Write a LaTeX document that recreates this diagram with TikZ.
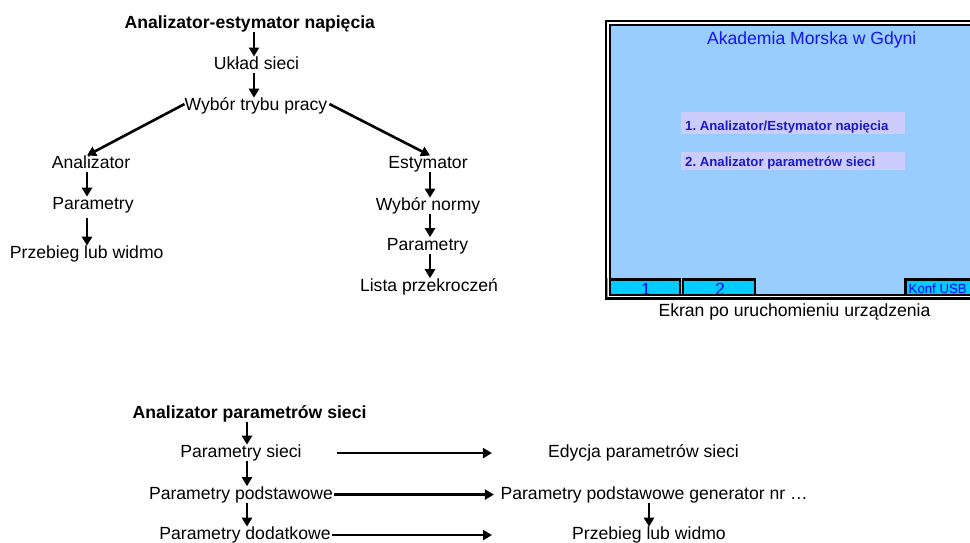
\documentclass[tikz,border=0pt]{standalone}
\usepackage{fontspec}
\setmainfont{Liberation Sans}
\frenchspacing
\usetikzlibrary{arrows.meta}
\definecolor{scrbg}{HTML}{99CCFF}
\definecolor{btncyan}{HTML}{00CCFF}
\definecolor{menubg}{HTML}{CCCCFF}
\definecolor{scrblue}{HTML}{1414F0}
\definecolor{menublue}{HTML}{1A1AC8}
\tikzset{
  lbl/.style={font=\fontsize{17.6}{20}\selectfont, inner sep=0pt, text height=12.6pt, text depth=3.7pt, anchor=base},
  blbl/.style={lbl, font=\fontsize{17.6}{20}\selectfont\bfseries},
  arr/.style={line width=2.6pt, -{Triangle[length=9pt,width=10pt]}},
  scrtitle/.style={font=\fontsize{17.6}{20}\selectfont, text=scrblue, inner sep=0pt, anchor=base},
  menutxt/.style={font=\fontsize{13.2}{15}\selectfont\bfseries, text=menublue, inner sep=0pt, anchor=base west},
  btntxt/.style={font=\fontsize{17.6}{20}\selectfont, text=blue, inner sep=0pt, anchor=base},
  konftxt/.style={font=\fontsize{13.2}{15}\selectfont, text=blue, inner sep=0pt, anchor=base west},
  frame/.style={line width=2.2pt},
}
\begin{document}
\begin{tikzpicture}[x=1pt,y=-1pt]
\useasboundingbox (0,0) rectangle (970,542);

% ---------- top-left tree ----------
\coordinate (cA) at (254,0);
\coordinate (cL) at (87,0);
\coordinate (cR) at (430,0);
\node[blbl] (t0) at (249.8,28) {Analizator-estymator napięcia};
\node[lbl] (t1) at (256.5,69.3) {Układ sieci};
\node[lbl] (t2) at (256,110.5) {Wybór trybu pracy};
\node[lbl] (an) at (91,168.3) {Analizator};
\node[lbl] (pa) at (93,209.5) {Parametry};
\node[lbl] (pl) at (86.7,258.5) {Przebieg lub widmo};
\node[lbl] (es) at (428,168.3) {Estymator};
\node[lbl] (wn) at (428,210.5) {Wybór normy};
\node[lbl] (pe) at (427.5,250) {Parametry};
\node[lbl] (li) at (429,291) {Lista przekroczeń};

\draw[arr] (t0.south -| cA) -- (t1.north -| cA);
\draw[arr] (t1.south -| cA) -- (t2.north -| cA);
\draw[arr] ([yshift=2pt]t2.west) -- (an.north -| cL);
\draw[arr] ([xshift=2pt,yshift=2pt]t2.east) -- (es.north -| cR);
\draw[arr] (an.south -| cL) -- (pa.north -| cL);
\draw[arr, shorten <=5pt] (pa.south -| cL) -- (pl.north -| cL);
\draw[arr] (es.south -| cR) -- (wn.north -| cR);
\draw[arr] (wn.south -| cR) -- (pe.north -| cR);
\draw[arr] (pe.south -| cR) -- (li.north -| cR);

% ---------- screen ----------
\fill[scrbg] (610.7,25.7) rectangle (990,294.2);
\fill[btncyan] (610.7,280.5) rectangle (679,294.2);
\fill[btncyan] (684.3,280.5) rectangle (754,294.2);
\fill[btncyan] (906.5,280.5) rectangle (990,294.2);
\draw[btncyan, line width=1pt] (607.8,278) -- (607.8,297) -- (990,297);
\fill[menubg] (681,112.3) rectangle (905,133.7);
\fill[menubg] (681,152) rectangle (905,169.7);

\node[scrtitle] (st) at (811.7,44) {Akademia Morska w Gdyni};
\node[menutxt] (m1) at (685,130) {1. Analizator/Estymator napięcia};
\node[menutxt] (m2) at (685,166) {2. Analizator parametrów sieci};
\node[btntxt] (k1) at (646,295) {1};
\node[btntxt] (k2) at (720,295) {2};
\node[konftxt] (k3) at (908.5,293.5) {Konf USB};

\draw[line width=2.2pt] (606.2,21.2) rectangle (995,298.5);
\draw[frame] (609.7,24.7) rectangle (995,295.2);
\draw[frame] (609.7,279.5) -- (680,279.5) -- (680,295.2);
\draw[frame] (683.3,295.2) -- (683.3,279.5) -- (755,279.5) -- (755,295.2);
\draw[frame] (905.5,295.2) -- (905.5,279.5) -- (995,279.5);

\node[lbl] (cap) at (794.5,316.7) {Ekran po uruchomieniu urządzenia};

% ---------- bottom tree ----------
\coordinate (cB) at (247,0);
\coordinate (cE) at (649,0);
\node[blbl] (b0) at (249.6,418.5) {Analizator parametrów sieci};
\node[lbl] (b1) at (241,457.5) {Parametry sieci};
\node[lbl] (b2) at (241,499) {Parametry podstawowe};
\node[lbl] (b3) at (245,539.5) {Parametry dodatkowe};
\node[lbl] (e1) at (643.5,457.5) {Edycja parametrów sieci};
\node[lbl, anchor=base west] (e2) at (500.4,499) {Parametry podstawowe generator nr …};
\node[lbl] (e3) at (649,539.5) {Przebieg lub widmo};

\draw[arr] (b0.south -| cB) -- (b1.north -| cB);
\draw[arr] (b1.south -| cB) -- (b2.north -| cB);
\draw[arr] (b2.south -| cB) -- (b3.north -| cB);
\draw[arr, shorten <=35pt, shorten >=56pt] (b1.east) -- (b1.east -| e1.west);
\draw[arr, shorten <=1pt, shorten >=6.5pt] (b2.east) -- (e2.west);
\draw[arr, shorten <=1pt, shorten >=80pt] (b3.east) -- (b3.east -| e3.west);
\draw[arr] (e2.south -| cE) -- (e3.north -| cE);
\end{tikzpicture}
\end{document}
